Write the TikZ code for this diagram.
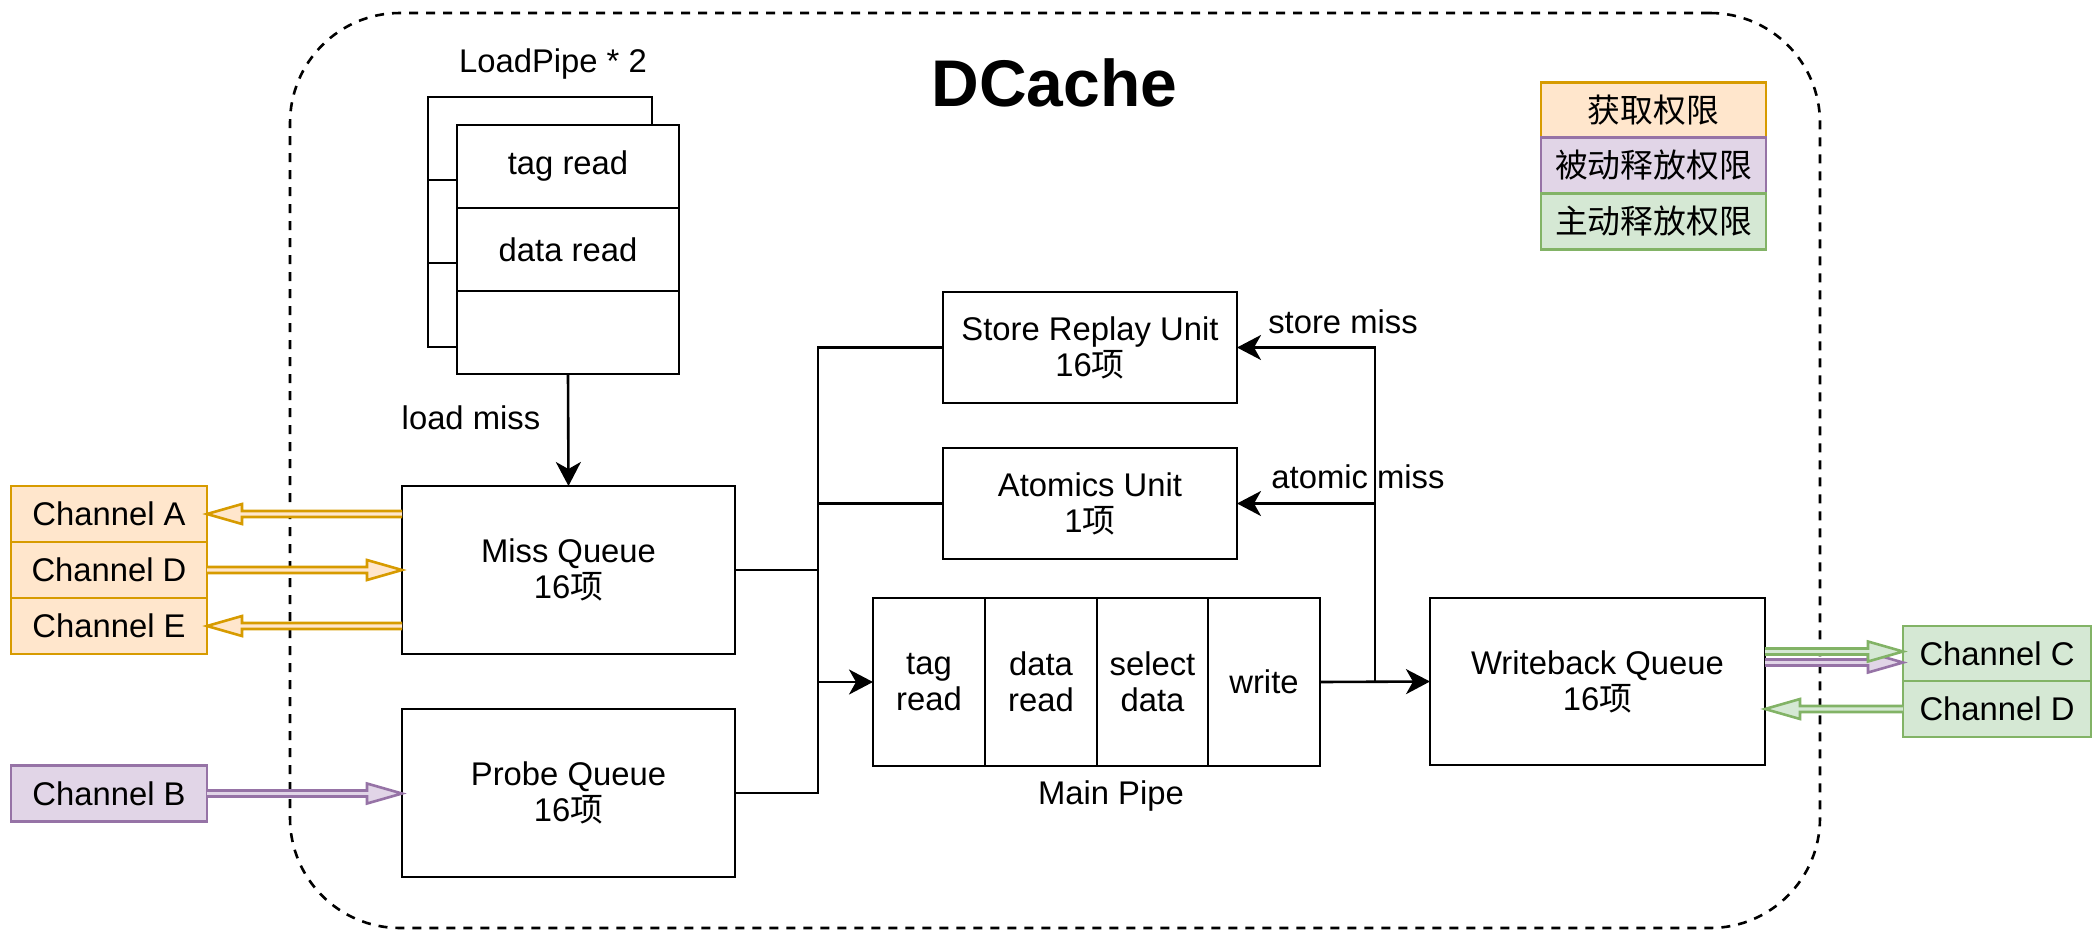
\documentclass[tikz,border=0pt]{standalone}
\usepackage{fontspec}
\setmainfont{Liberation Sans}
\newfontfamily\cjk{Noto Sans CJK SC}
\usetikzlibrary{arrows.meta,calc}

\definecolor{orgS}{HTML}{D79B00}
\definecolor{orgF}{HTML}{FFE6CC}
\definecolor{purS}{HTML}{9673A6}
\definecolor{purF}{HTML}{E1D5E7}
\definecolor{grnS}{HTML}{82B366}
\definecolor{grnF}{HTML}{D5E8D4}

\newcommand\xiang{{\cjk 项}}
% hollow "fat" arrow: #1 stroke, #2 fill, #3 tail, #4 tip, #5 signed head length
\newcommand\fatarrow[5]{%
  \fill[#2] ($(#3)+(0,-3)$) -- ($(#4)+(#5,-3)$) -- ($(#4)+(#5,-10)$) -- (#4)
    -- ($(#4)+(#5,10)$) -- ($(#4)+(#5,3)$) -- ($(#3)+(0,3)$) -- cycle;
  \draw[line width=1.3pt, draw=#1, line join=miter]
    ($(#3)+(0,-3)$) -- ($(#4)+(#5,-3)$) -- ($(#4)+(#5,-10)$) -- (#4)
    -- ($(#4)+(#5,10)$) -- ($(#4)+(#5,3)$) -- ($(#3)+(0,3)$);
}

\begin{document}
\begin{tikzpicture}[x=0.5pt,y=-0.5pt,
  txt/.style={font=\fontsize{16.4pt}{18pt}\selectfont, align=center, inner sep=0pt},
  blk/.style={txt, draw, line width=1.3pt, fill=white, outer sep=0pt},
  chan/.style={blk, minimum width=98pt, minimum height=28pt},
  legend/.style={blk, minimum width=112.5pt, minimum height=27.8pt},
  queue/.style={blk, minimum width=166.5pt, minimum height=84pt},
  unit/.style={blk, minimum width=147pt, minimum height=55.5pt},
  stage/.style={blk, minimum width=56pt, minimum height=84pt},
  lpcell/.style={blk, minimum width=111pt, minimum height=41.5pt},
  wire/.style={line width=1.3pt, draw=black},
  arr/.style={wire, -{Stealth[length=12pt,width=12.5pt,inset=3.5pt]}},
  frame/.style={draw, line width=1.3pt, dash pattern=on 4.5pt off 4pt, rounded corners=55pt,
    inner sep=0pt, outer sep=0pt}
]
\useasboundingbox (0,0) rectangle (2094,932);

% DCache outline and title
\node[frame, minimum width=765pt, minimum height=457.5pt] (dcache) at (1055,470.5) {};
\node[txt, font=\bfseries\fontsize{33pt}{36pt}\selectfont] (title) at (1054.5,83) {DCache};

% legend
\node[legend, draw=orgS, fill=orgF] (lgA) at (1653.5,110) {\cjk 获取权限};
\node[legend, draw=purS, fill=purF] (lgB) at (1653.5,165.5) {\cjk 被动释放权限};
\node[legend, draw=grnS, fill=grnF] (lgC) at (1653.5,221.5) {\cjk 主动释放权限};

% load pipes (two stacked copies)
\node[txt] (lplabel) at (553,64) {LoadPipe * 2};
\node[lpcell, minimum width=112pt] (lpb1) at (540,138.5) {};
\node[lpcell, minimum width=112pt] (lpb2) at (540,221.5) {};
\node[lpcell, minimum width=112pt, minimum height=42pt] (lpb3) at (540,305) {};
\node[lpcell] (lp1) at (568,166.5) {tag read};
\node[lpcell] (lp2) at (568,249.5) {data read};
\node[lpcell] (lp3) at (568,332.5) {};

% queues
\node[queue] (miss) at (568.5,570) {Miss Queue\\16\xiang};
\node[queue] (probe) at (568.5,793) {Probe Queue\\16\xiang};
\node[queue, minimum width=167.5pt, minimum height=83.5pt] (wb) at (1597.5,681.5) {Writeback Queue\\16\xiang};

% replay / atomics units
\node[unit] (store) at (1090,347.5) {Store Replay Unit\\16\xiang};
\node[unit] (atom) at (1090,503.5) {Atomics Unit\\1\xiang};

% main pipe stages
\node[stage] (mp1) at (929,682) {tag\\read};
\node[stage] (mp2) at (1041,682) {data\\read};
\node[stage, minimum width=55.5pt] (mp3) at (1152.5,682) {select\\data};
\node[stage] (mp4) at (1264,682) {write};
\node[txt] (mplabel) at (1111,796) {Main Pipe};

% channels
\node[chan, draw=orgS, fill=orgF] (chA) at (109,514) {Channel A};
\node[chan, draw=orgS, fill=orgF] (chD) at (109,570) {Channel D};
\node[chan, draw=orgS, fill=orgF] (chE) at (109,626) {Channel E};
\node[chan, draw=purS, fill=purF] (chB) at (109,793.5) {Channel B};
\node[chan, draw=grnS, fill=grnF, minimum width=94pt, minimum height=27.5pt] (chC) at (1997,653.5) {Channel C};
\node[chan, draw=grnS, fill=grnF, minimum width=94pt, minimum height=28pt] (chD2) at (1997,709) {Channel D};

% internal connectors
\draw[arr] (lp3.south) -- (miss.north);
\node[txt] (lmiss) at (471,418) {load miss};

\coordinate (busL) at (818,0);
\coordinate (busR) at (1375,0);
\draw[wire] (store.west) -- (store.west -| busL) |- (probe.east);
\draw[wire] (atom.west) -- (atom.west -| busL);
\draw[wire] (miss.east) -- (miss.east -| busL);
\draw[arr] (mp1.west -| busL) -- (mp1.west);

\draw[arr] (mp4.east) -- (wb.west);
\draw[arr] (mp4.east -| busR) |- (store.east);
\draw[arr] (atom.east -| busR) -- (atom.east);
\node[txt] (smiss) at (1343,322) {store miss};
\node[txt] (amiss) at (1358,477) {atomic miss};

% channel arrows
\coordinate (aTail) at (miss.west |- chA.east);
\coordinate (aTip) at (chA.east);
\coordinate (dTail) at (chD.east);
\coordinate (dTip) at (miss.west |- chD.east);
\coordinate (eTail) at (miss.west |- chE.east);
\coordinate (eTip) at (chE.east);
\coordinate (bTail) at (chB.east);
\coordinate (bTip) at (probe.west |- chB.east);
\fatarrow{orgS}{orgF}{aTail}{aTip}{35}
\fatarrow{orgS}{orgF}{dTail}{dTip}{-35}
\fatarrow{orgS}{orgF}{eTail}{eTip}{35}
\fatarrow{purS}{purF}{bTail}{bTip}{-35}

\coordinate (cpTail) at ($(wb.east |- chC.west)+(0,9)$);
\coordinate (cpTip) at ($(chC.west)+(0,9)$);
\coordinate (cgTail) at ($(wb.east |- chC.west)+(0,-2)$);
\coordinate (cgTip) at ($(chC.west)+(0,-2)$);
\coordinate (d2Tail) at (chD2.west);
\coordinate (d2Tip) at (wb.east |- chD2.west);
\fatarrow{purS}{purF}{cpTail}{cpTip}{-35}
\fatarrow{grnS}{grnF}{cgTail}{cgTip}{-35}
\fatarrow{grnS}{grnF}{d2Tail}{d2Tip}{35}
\end{tikzpicture}
\end{document}
